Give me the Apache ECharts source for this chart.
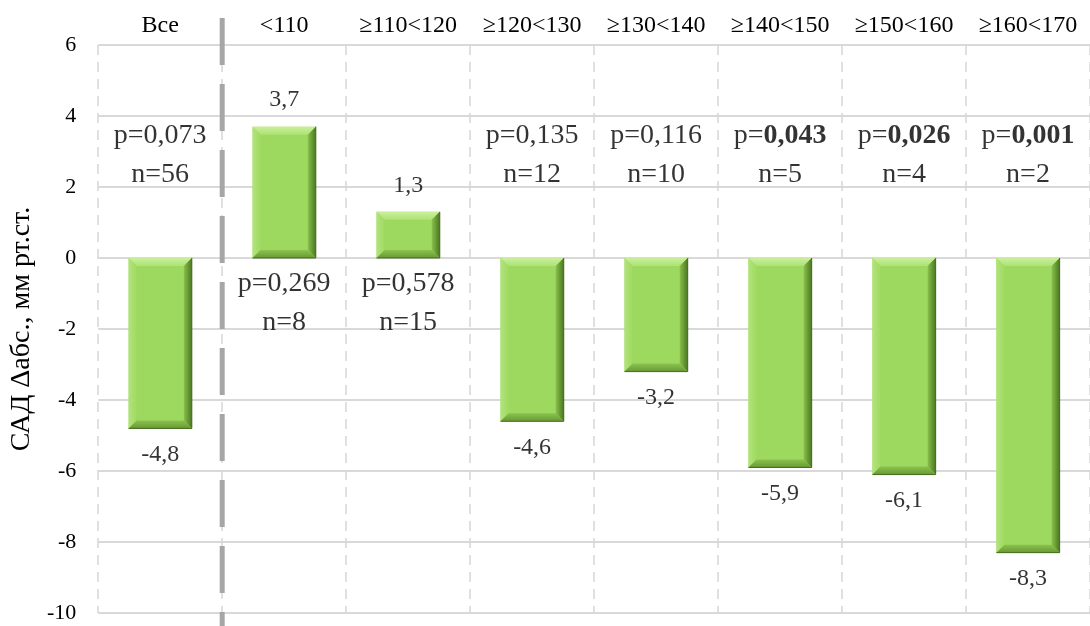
<!DOCTYPE html>
<html>
<head>
<meta charset="utf-8">
<title>САД Δабс.</title>
<script src="https://cdn.jsdelivr.net/npm/echarts@6/dist/echarts.min.js"></script>
<style>
  html, body { margin: 0; padding: 0; background: #fff; }
  #chart { width: 1090px; height: 626px; }
</style>
</head>
<body>
<div id="chart"></div>
<script>
// Groups of baseline systolic pressure, mm Hg
const categories = ['Все', '<110', '≥110<120', '≥120<130', '≥130<140', '≥140<150', '≥150<160', '≥160<170'];
// Absolute change of systolic pressure per group
const deltaValues = [-4.8, 3.7, 1.3, -4.6, -3.2, -5.9, -6.1, -8.3];
// Significance and group sizes
const pValues = ['0,073', '0,269', '0,578', '0,135', '0,116', '0,043', '0,026', '0,001'];
const nValues = [56, 8, 15, 12, 10, 5, 4, 2];
// Value axis range
const yMin = -10;
const yMax = 6;
const yStep = 2;

const SERIF = '"Liberation Serif", "Times New Roman", serif';
const TEXT = '#000';

function fmt(v) {
  return v.toFixed(1).replace('.', ',');
}

// Bar with a bevelled edge: light top, darker right and bottom faces
function renderBevelBar(params, api) {
  const i = api.value(0);
  const v = api.value(1);
  const base = api.coord([i, 0]);
  const end = api.coord([i, v]);
  const bw = api.size([1, 0])[0] * 0.51;
  const l = base[0] - bw / 2;
  const r = base[0] + bw / 2;
  const t = Math.min(base[1], end[1]);
  const B = Math.max(base[1], end[1]);
  const b = Math.min(8, (B - t) / 2);
  const lg = echarts.graphic.LinearGradient;
  return {
    type: 'group',
    children: [
      { type: 'rect', shape: { x: l, y: t, width: r - l, height: B - t },
        style: { fill: '#9cd95e' } },
      { type: 'polygon', shape: { points: [[l, t], [r, t], [r - b, t + b], [l + b, t + b]] },
        style: { fill: new lg(0, 0, 0, 1, [{ offset: 0, color: '#c9ef9c' }, { offset: 1, color: '#aee274' }]) } },
      { type: 'polygon', shape: { points: [[l, t], [l + b, t + b], [l + b, B - b], [l, B]] },
        style: { fill: new lg(0, 0, 1, 0, [{ offset: 0, color: '#b2e37c' }, { offset: 1, color: '#a0da62' }]) } },
      { type: 'polygon', shape: { points: [[r, t], [r - b, t + b], [r - b, B - b], [r, B]] },
        style: { fill: new lg(0, 0, 1, 0, [{ offset: 0, color: '#88c04c' }, { offset: 1, color: '#4c7822' }]) } },
      { type: 'polygon', shape: { points: [[l, B], [r, B], [r - b, B - b], [l + b, B - b]] },
        style: { fill: new lg(0, 0, 0, 1, [{ offset: 0, color: '#8cc250' }, { offset: 1, color: '#679a33' }]) } },
      { type: 'polyline', shape: { points: [[r, t], [r, B], [l, B]] },
        style: { stroke: '#456b1c', lineWidth: 1, fill: null } }
    ]
  };
}

// Thick dashed separator between the overall column and the groups
function renderDivider(params, api) {
  const x = api.coord([0, 0])[0] + api.size([1, 0])[0] / 2;
  return {
    type: 'line',
    shape: { x1: x, y1: 18, x2: x, y2: 640 },
    style: { stroke: '#a6a6a6', lineWidth: 5, lineDash: [47, 19] }
  };
}

const barData = deltaValues.map((v, i) => [i, v]);

const valueLabelData = deltaValues.map((v, i) => ({
  value: [i, v],
  label: { position: v < 0 ? 'bottom' : 'top' }
}));

const statsData = deltaValues.map((v, i) => ({
  value: [i, v < 0 ? 2.9 : -1.27],
  p: pValues[i],
  n: nValues[i]
}));

const chart = echarts.init(document.getElementById('chart'), null, { renderer: 'canvas' });

chart.setOption({
  animation: false,
  backgroundColor: '#fff',
  grid: { left: 97, right: -7, top: 45, bottom: 13, containLabel: false },
  xAxis: {
    type: 'category',
    data: categories,
    position: 'top',
    boundaryGap: true,
    axisLine: { show: false },
    axisTick: { show: false },
    axisLabel: {
      interval: 0,
      margin: 7,
      fontFamily: SERIF,
      fontSize: 24,
      color: TEXT
    },
    splitLine: {
      show: true,
      interval: 0,
      lineStyle: { color: '#d6d6d6', width: 1.5, type: [10, 7] }
    }
  },
  yAxis: {
    type: 'value',
    min: yMin,
    max: yMax,
    interval: yStep,
    name: 'САД Δабс., мм рт.ст.',
    nameLocation: 'middle',
    nameRotate: 90,
    nameGap: 58,
    nameTextStyle: { fontFamily: SERIF, fontSize: 28, color: TEXT },
    axisLine: { show: false },
    axisTick: { show: false },
    axisLabel: {
      margin: 22,
      fontFamily: SERIF,
      fontSize: 22,
      color: TEXT,
      formatter: v => String(v)
    },
    splitLine: { lineStyle: { color: '#d9d9d9', width: 2 } }
  },
  series: [
    {
      type: 'custom',
      renderItem: renderBevelBar,
      data: barData,
      z: 3
    },
    {
      type: 'custom',
      renderItem: renderDivider,
      data: [[0, 0]],
      clip: false,
      silent: true,
      z: 4
    },
    {
      type: 'scatter',
      data: valueLabelData,
      symbolSize: 1,
      itemStyle: { color: 'rgba(0,0,0,0)' },
      label: {
        show: true,
        distance: 14,
        fontFamily: SERIF,
        fontSize: 24,
        color: TEXT,
        formatter: p => fmt(p.value[1])
      },
      z: 5
    },
    {
      type: 'scatter',
      data: statsData,
      symbolSize: 1,
      itemStyle: { color: 'rgba(0,0,0,0)' },
      label: {
        show: true,
        position: 'inside',
        formatter: p => {
          const sig = parseFloat(p.data.p.replace(',', '.')) < 0.05;
          const pv = sig ? '{b|' + p.data.p + '}' : '{t|' + p.data.p + '}';
          return '{t|p=}' + pv + '\n{t|n=' + p.data.n + '}';
        },
        rich: {
          t: { fontFamily: SERIF, fontSize: 28, color: TEXT, lineHeight: 39 },
          b: { fontFamily: SERIF, fontSize: 28, fontWeight: 'bold', color: TEXT, lineHeight: 39 }
        }
      },
      z: 5
    }
  ]
});
</script>
</body>
</html>
